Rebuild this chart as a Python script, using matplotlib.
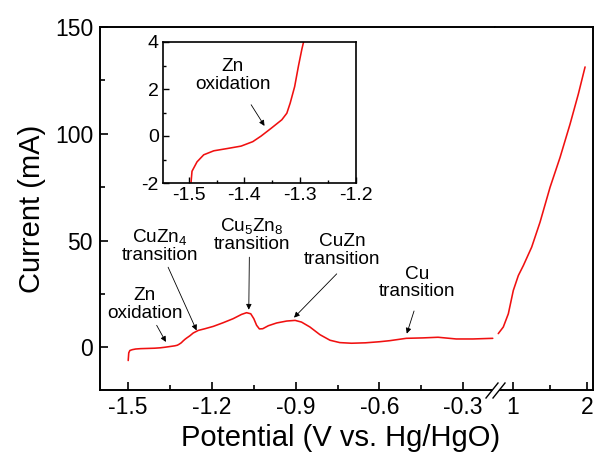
import matplotlib
matplotlib.use("Agg")
import matplotlib.pyplot as plt
from matplotlib.ticker import MultipleLocator, FixedLocator

plt.rcParams['font.family'] = ['Liberation Sans', 'DejaVu Sans']
plt.rcParams['mathtext.fontset'] = 'custom'
plt.rcParams['mathtext.rm'] = 'Liberation Sans'
plt.rcParams['mathtext.it'] = 'Liberation Sans:italic'

# Linear sweep, low-potential branch (V vs. Hg/HgO, mA)
potential_low = [-1.500, -1.498, -1.494, -1.485, -1.473, -1.455, -1.430, -1.406,
                 -1.385, -1.370, -1.352, -1.333, -1.324, -1.318, -1.310, -1.303,
                 -1.297, -1.291, -1.279, -1.267, -1.249, -1.225, -1.195, -1.160,
                 -1.124, -1.094, -1.076, -1.061, -1.050, -1.040, -1.030, -1.018,
                 -0.998, -0.968, -0.932, -0.902, -0.879, -0.849, -0.813, -0.777,
                 -0.742, -0.700, -0.650, -0.600, -0.563, -0.504, -0.444, -0.390,
                 -0.325, -0.265, -0.194]
current_low = [-6.2, -2.6, -1.5, -1.1, -0.8, -0.63, -0.53, -0.43,
               -0.24, 0.0, 0.33, 0.69, 0.97, 1.4, 2.1, 3.0,
               3.7, 4.3, 5.4, 6.7, 7.9, 8.7, 9.8, 11.5,
               13.4, 15.4, 16.2, 15.7, 13.4, 10.3, 8.6, 8.7,
               10.1, 11.4, 12.3, 12.6, 11.8, 9.5, 5.9, 3.3,
               2.2, 1.9, 2.1, 2.6, 3.1, 4.2, 4.4, 4.7,
               3.9, 3.9, 4.2]

# High-potential branch
potential_high = [0.801, 0.869, 0.937, 1.004, 1.072, 1.140, 1.252, 1.365,
                  1.500, 1.635, 1.770, 1.882, 1.973]
current_high = [6.4, 9.5, 15.7, 26.6, 33.6, 38.3, 46.9, 58.6,
                74.9, 88.9, 104.5, 118.6, 131.3]

x_ticks_low = [-1.5, -1.2, -0.9, -0.6, -0.3]
x_ticks_high = [1, 2]
y_ticks = [0, 50, 100, 150]

# Labelled features: (text, text position, arrow tail, arrow head)
peak_labels = [
    ("Zn\noxidation", (-1.440, 20.1), (-1.398, 10.3), (-1.365, 2.5)),
    ("CuZn$_{\\mathregular{4}}$\ntransition", (-1.386, 47.7), (-1.357, 37.5), (-1.255, 7.9)),
    ("Cu$_{\\mathregular{5}}$Zn$_{\\mathregular{8}}$\ntransition", (-1.058, 52.8), (-1.066, 42.2), (-1.068, 17.6)),
    ("CuZn\ntransition", (-0.733, 45.3), (-0.753, 34.4), (-0.906, 13.9)),
    ("Cu\ntransition", (-0.466, 30.1), (-0.476, 17.0), (-0.502, 6.4)),
]
inset_label = ("Zn\noxidation", (-1.421, 2.58), (-1.388, 1.33), (-1.364, 0.43))

W, H = 595, 454
fig = plt.figure(figsize=(W / 100, H / 100), dpi=100)
fig.patch.set_facecolor('white')

left_px, right_px, break_px = 100, 593, 495
top_px, bottom_px = 27, 390
ax1 = fig.add_axes([left_px / W, 1 - bottom_px / H, (break_px - left_px) / W, (bottom_px - top_px) / H])
ax2 = fig.add_axes([break_px / W, 1 - bottom_px / H, (right_px - break_px) / W, (bottom_px - top_px) / H],
                   sharey=ax1)

red = '#f01010'
line_kw = dict(color=red, lw=1.15, solid_joinstyle='round', solid_capstyle='round')
ax1.plot(potential_low, current_low, **line_kw)
ax2.plot(potential_high, current_high, **line_kw)

ax1.set_xlim(-1.601, -0.186)
ax2.set_xlim(0.757, 2.08)
ax1.set_ylim(-20, 150)

spine_lw = 1.4
for ax in (ax1, ax2):
    for s in ax.spines.values():
        s.set_linewidth(spine_lw)
    ax.tick_params(which='both', direction='in', width=1.2, labelsize=16.5, pad=4)
    ax.tick_params(which='major', length=6)
    ax.tick_params(which='minor', length=3.5)
ax1.spines['right'].set_visible(False)
ax2.spines['left'].set_visible(False)

ax1.xaxis.set_major_locator(FixedLocator(x_ticks_low))
ax1.xaxis.set_minor_locator(MultipleLocator(0.15))
ax1.set_xticklabels([f"{t:g}" for t in x_ticks_low])
ax1.yaxis.set_major_locator(FixedLocator(y_ticks))
ax1.yaxis.set_minor_locator(MultipleLocator(25))
ax1.tick_params(axis='y', pad=5)

ax2.xaxis.set_major_locator(FixedLocator(x_ticks_high))
ax2.xaxis.set_minor_locator(MultipleLocator(0.5))
ax2.set_xticklabels([f"{t:g}" for t in x_ticks_high])
ax2.tick_params(axis='y', which='both', left=False, labelleft=False, right=False)

ax1.set_ylabel("Current (mA)", fontsize=21, labelpad=6)
fig.text(((left_px + right_px) / 2 - 6) / W, 1 - 438 / H, "Potential (V vs. Hg/HgO)",
         fontsize=21, ha='center', va='center')

# Axis break marker on the bottom spine
tb = ax2.transAxes
aw, ah = right_px - break_px, bottom_px - top_px
x_a = [-9 / aw, 3 / aw]
x_b = [-2 / aw, 10 / aw]
y_s = [-8 / ah, 7 / ah]
ax2.fill([x_a[0], x_b[0], x_b[1], x_a[1]], [y_s[0], y_s[0], y_s[1], y_s[1]],
         color='white', transform=tb, clip_on=False, zorder=5, lw=0)
for xs in (x_a, x_b):
    ax2.plot(xs, y_s, color='black', lw=1.0, transform=tb, clip_on=False, zorder=6)

arrow_kw = dict(arrowstyle='-|>', color='black', lw=0.6, mutation_scale=8, shrinkA=0, shrinkB=0)
for text, pos, tail, head in peak_labels:
    ax1.text(pos[0], pos[1], text, fontsize=13.7, ha='center', va='center', linespacing=1.05)
    ax1.annotate('', xy=head, xytext=tail, arrowprops=arrow_kw)

# Inset: magnified onset region
ax_in = fig.add_axes([163 / W, 1 - 183 / H, 193 / W, 141 / H])
ax_in.plot(potential_low, current_low, **line_kw)
ax_in.set_xlim(-1.546, -1.2)
ax_in.set_ylim(-2, 4)
for s in ax_in.spines.values():
    s.set_linewidth(1.2)
ax_in.xaxis.set_major_locator(FixedLocator([-1.5, -1.4, -1.3, -1.2]))
ax_in.xaxis.set_minor_locator(FixedLocator([-1.45, -1.35, -1.25]))
ax_in.yaxis.set_major_locator(FixedLocator([-2, 0, 2, 4]))
ax_in.yaxis.set_minor_locator(FixedLocator([-1, 1, 3]))
ax_in.tick_params(which='both', direction='in', width=1.0, labelsize=14, pad=3)
ax_in.tick_params(which='major', length=4.5)
ax_in.tick_params(which='minor', length=2.5)
ax_in.set_xticklabels(["-1.5", "-1.4", "-1.3", "-1.2"])
ax_in.set_yticklabels(["-2", "0", "2", "4"])
text, pos, tail, head = inset_label
ax_in.text(pos[0], pos[1], text, fontsize=13.7, ha='center', va='center', linespacing=1.05)
ax_in.annotate('', xy=head, xytext=tail, arrowprops=arrow_kw)

fig.savefig("out.png", dpi=100, facecolor='white')
